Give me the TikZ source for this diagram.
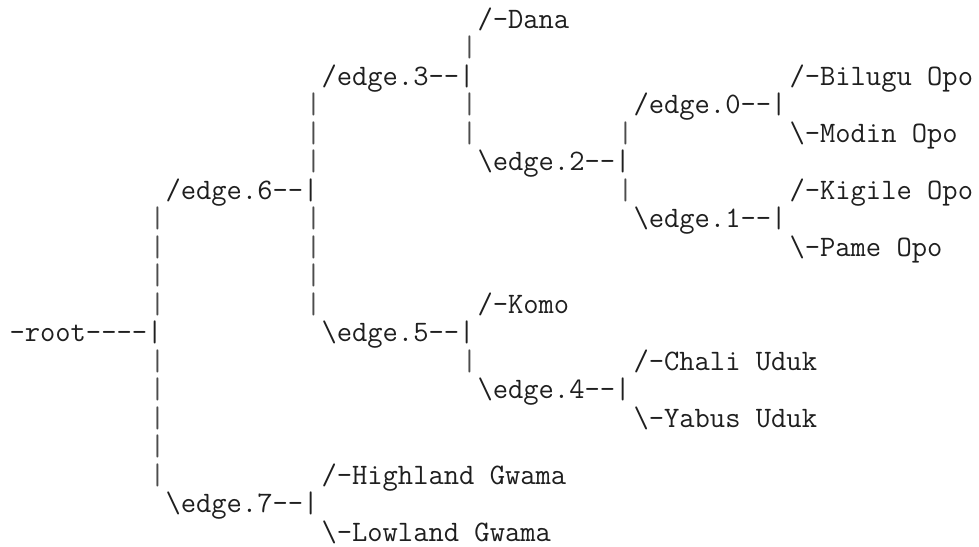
\documentclass[tikz,border=0pt]{standalone}
\usepackage{fontspec}

% one character cell of the listing
\tikzset{
  txt/.style={anchor=base west, inner sep=0pt, outer sep=0pt,
    font=\ttfamily\fontsize{29.7}{30}\selectfont, text=black!88},
  bar/.style={txt, text=black!70}
}
\newcommand{\bs}{\textbackslash}

\begin{document}
\begin{tikzpicture}[x=15.6pt,y=-28.5pt]
  \useasboundingbox[fill=white] (0pt,0pt) rectangle (979pt,-546pt);
  \begin{scope}[shift={(9.5pt,-28pt)}]
    % labels, (column,row)
    \node[txt] (dana)   at (30,0)  {/-Dana};
    \node[txt] (e3)     at (20,2)  {/edge.3--|};
    \node[txt] (bilugu) at (50,2)  {/-Bilugu Opo};
    \node[txt] (e0)     at (40,3)  {/edge.0--|};
    \node[txt] (modin)  at (50,4)  {\bs-Modin Opo};
    \node[txt] (e2)     at (30,5)  {\bs edge.2--|};
    \node[txt] (e6)     at (10,6)  {/edge.6--|};
    \node[txt] (kigile) at (50,6)  {/-Kigile Opo};
    \node[txt] (e1)     at (40,7)  {\bs edge.1--|};
    \node[txt] (pame)   at (50,8)  {\bs-Pame Opo};
    \node[txt] (komo)   at (30,10) {/-Komo};
    \node[txt] (root)   at (0,11)  {-root----|};
    \node[txt] (e5)     at (20,11) {\bs edge.5--|};
    \node[txt] (chali)  at (40,12) {/-Chali Uduk};
    \node[txt] (e4)     at (30,13) {\bs edge.4--|};
    \node[txt] (yabus)  at (40,14) {\bs-Yabus Uduk};
    \node[txt] (high)   at (20,16) {/-Highland Gwama};
    \node[txt] (e7)     at (10,17) {\bs edge.7--|};
    \node[txt] (low)    at (20,18) {\bs-Lowland Gwama};

    % vertical bars
    \foreach \r in {7,8,9,10,12,13,14,15,16}
      \node[bar] (c9r\r) at (9,\r) {|};
    \foreach \r in {3,4,5,7,8,9,10}
      \node[bar] (c19r\r) at (19,\r) {|};
    \foreach \r in {1,3,4,12}
      \node[bar] (c29r\r) at (29,\r) {|};
    \foreach \r in {4,6}
      \node[bar] (c39r\r) at (39,\r) {|};
  \end{scope}
\end{tikzpicture}
\end{document}
